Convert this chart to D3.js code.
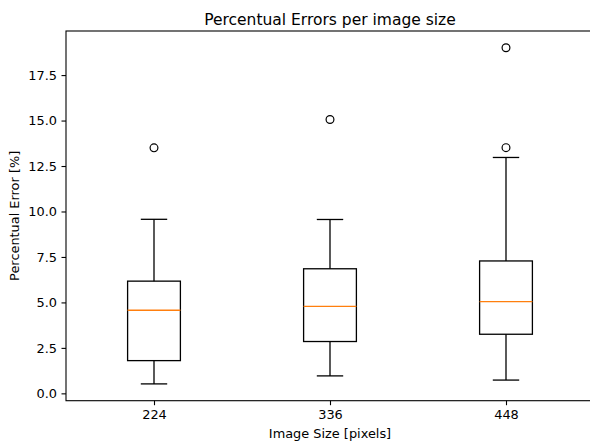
<!DOCTYPE html>
<html>
<head>
<meta charset="utf-8">
<script src="https://cdn.jsdelivr.net/npm/d3@7"></script>
<style>
  html, body { margin: 0; padding: 0; background: #fff; }
  svg { display: block; font-family: "DejaVu Sans", sans-serif; }
</style>
</head>
<body>
<svg id="chart" width="590" height="442"></svg>
<script>
// Box-plot summaries of percentual error for each input image size
const sizes = ["224", "336", "448"];
const whiskerLow = [0.52, 0.96, 0.73];
const q1 = [1.80, 2.85, 3.25];
const median = [4.57, 4.78, 5.04];
const q3 = [6.17, 6.85, 7.28];
const whiskerHigh = [9.57, 9.56, 12.97];
const outliers = [[13.50], [15.06], [13.51, 19.00]];
const yTicks = [0, 2.5, 5, 7.5, 10, 12.5, 15, 17.5];

const svg = d3.select("#chart");
const plotLeft = 66, plotRight = 594, plotTop = 31, plotBottom = 400.7;
const fontSize = "12.9px";

// y extent padded by 5% of the data range on both sides
const allVals = whiskerLow.concat(whiskerHigh, outliers.flat());
const lo = d3.min(allVals), hi = d3.max(allVals);
const pad = (hi - lo) * 0.05;

const x = d3.scalePoint().domain(sizes).range([plotLeft, plotRight]).padding(0.5);
const y = d3.scaleLinear().domain([lo - pad, hi + pad]).range([plotBottom, plotTop]);
const boxW = x.step() * 0.3;
const capW = boxW / 2;

const boxes = sizes.map((s, i) => ({
  size: s, lo: whiskerLow[i], q1: q1[i], med: median[i], q3: q3[i], hi: whiskerHigh[i], out: outliers[i]
}));

const g = svg.append("g");
const lw = 1.3;

const b = g.selectAll("g.box").data(boxes).join("g").attr("class", "box");
// whiskers
b.append("line").attr("x1", d => x(d.size)).attr("x2", d => x(d.size))
  .attr("y1", d => y(d.lo)).attr("y2", d => y(d.q1)).attr("stroke", "#000").attr("stroke-width", lw);
b.append("line").attr("x1", d => x(d.size)).attr("x2", d => x(d.size))
  .attr("y1", d => y(d.q3)).attr("y2", d => y(d.hi)).attr("stroke", "#000").attr("stroke-width", lw);
// caps
b.append("line").attr("x1", d => x(d.size) - capW / 2).attr("x2", d => x(d.size) + capW / 2)
  .attr("y1", d => y(d.lo)).attr("y2", d => y(d.lo)).attr("stroke", "#000").attr("stroke-width", lw);
b.append("line").attr("x1", d => x(d.size) - capW / 2).attr("x2", d => x(d.size) + capW / 2)
  .attr("y1", d => y(d.hi)).attr("y2", d => y(d.hi)).attr("stroke", "#000").attr("stroke-width", lw);
// box
b.append("rect").attr("x", d => x(d.size) - boxW / 2).attr("width", boxW)
  .attr("y", d => y(d.q3)).attr("height", d => y(d.q1) - y(d.q3))
  .attr("fill", "none").attr("stroke", "#000").attr("stroke-width", lw);
// median
b.append("line").attr("x1", d => x(d.size) - boxW / 2).attr("x2", d => x(d.size) + boxW / 2)
  .attr("y1", d => y(d.med)).attr("y2", d => y(d.med)).attr("stroke", "#ff7f0e").attr("stroke-width", lw);
// fliers
b.selectAll("circle").data(d => d.out.map(v => ({ size: d.size, v }))).join("circle")
  .attr("cx", d => x(d.size)).attr("cy", d => y(d.v)).attr("r", 3.9)
  .attr("fill", "none").attr("stroke", "#000").attr("stroke-width", 1.2);

// axes
const yAxis = d3.axisLeft(y).tickValues(yTicks).tickFormat(d3.format(".1f")).tickSize(4.5).tickPadding(4.5);
const xAxis = d3.axisBottom(x).tickSize(4.5).tickPadding(5);

const ya = svg.append("g").attr("transform", `translate(${plotLeft},0)`).call(yAxis);
const xa = svg.append("g").attr("transform", `translate(0,${plotBottom})`).call(xAxis);
[ya, xa].forEach(a => {
  a.select(".domain").remove();
  a.selectAll("line").attr("stroke", "#000").attr("stroke-width", 1.1);
  a.selectAll("text").attr("fill", "#000").style("font-size", fontSize).style("font-family", "DejaVu Sans");
});

// frame
svg.append("rect").attr("x", plotLeft).attr("y", plotTop).attr("width", plotRight - plotLeft).attr("height", plotBottom - plotTop)
  .attr("fill", "none").attr("stroke", "#000").attr("stroke-width", 1.1);

// labels
svg.append("text").attr("x", (plotLeft + plotRight) / 2).attr("y", 24.5).attr("text-anchor", "middle")
  .style("font-size", "15.5px").text("Percentual Errors per image size");
svg.append("text").attr("x", (plotLeft + plotRight) / 2).attr("y", 437.5).attr("text-anchor", "middle")
  .style("font-size", fontSize).text("Image Size [pixels]");
svg.append("text").attr("transform", `translate(19,${(plotTop + plotBottom) / 2}) rotate(-90)`).attr("text-anchor", "middle")
  .style("font-size", fontSize).text("Percentual Error [%]");
</script>
</body>
</html>
